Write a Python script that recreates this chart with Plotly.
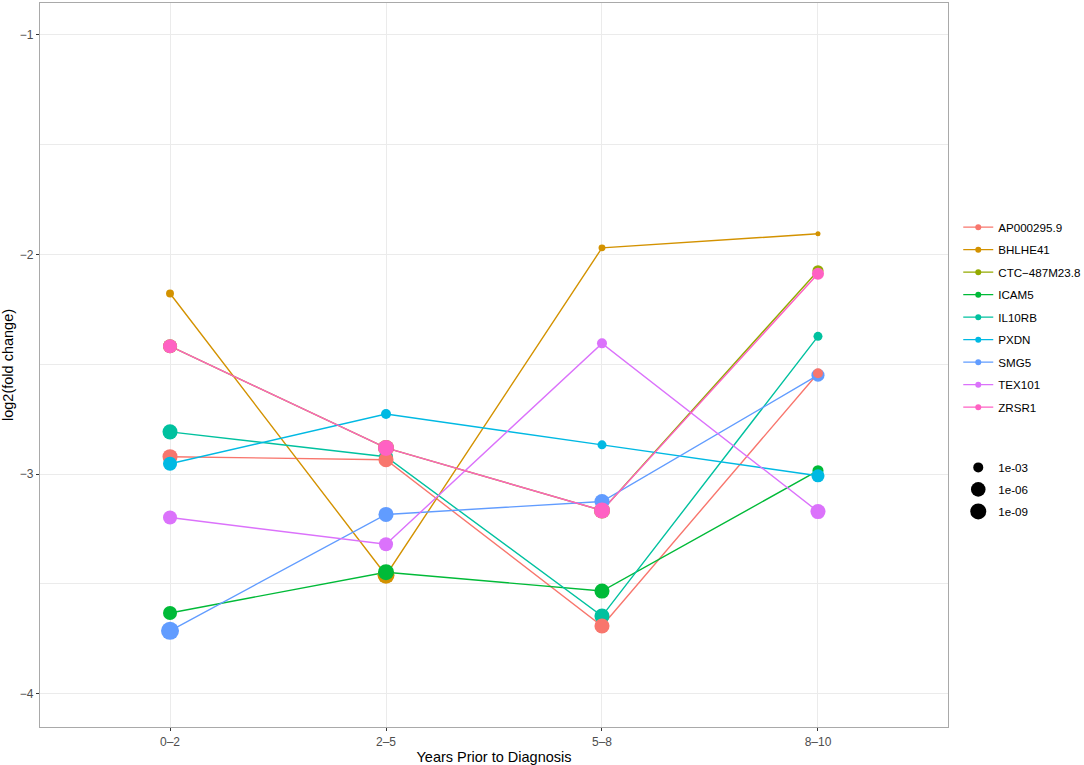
import math
import plotly.graph_objects as go

periods = ["0\u20132", "2\u20135", "5\u20138", "8\u201310"]
genes = ["AP000295.9", "BHLHE41", "CTC\u2212487M23.8", "ICAM5", "IL10RB",
         "PXDN", "SMG5", "TEX101", "ZRSR1"]
colors = ["#F8766D", "#D39200", "#93AA00", "#00BA38", "#00C19F",
          "#00B9E3", "#619CFF", "#DB72FB", "#FF61C3"]

# log2(fold change) per gene, per period
ap000295 = [-2.921, -2.935, -3.692, -2.541]
bhlhe41 = [-2.178, -3.461, -1.970, -1.906]
ctc487 = [-2.418, -2.881, -3.166, -2.074]
icam5 = [-3.633, -3.447, -3.533, -2.985]
il10rb = [-2.808, -2.921, -3.647, -2.373]
pxdn = [-2.953, -2.727, -2.867, -3.008]
smg5 = [-3.714, -3.184, -3.125, -2.550]
tex101 = [-3.198, -3.320, -2.405, -3.171]
zrsr1 = [-2.418, -2.881, -3.166, -2.088]

# -log10(p value) per gene, per period (mapped to point size)
nlp_ap000295 = [6.4, 6.4, 6.4, 3.0]
nlp_bhlhe41 = [2.0, 8.0, 1.6, 1.0]
nlp_ctc487 = [5.6, 7.2, 7.2, 3.6]
nlp_icam5 = [5.6, 7.2, 6.4, 3.6]
nlp_il10rb = [6.4, 5.6, 6.4, 2.5]
nlp_pxdn = [5.6, 3.0, 2.5, 4.9]
nlp_smg5 = [9.0, 6.4, 6.4, 4.9]
nlp_tex101 = [5.6, 5.6, 3.0, 6.4]
nlp_zrsr1 = [5.6, 7.2, 7.2, 4.2]

size_breaks = [3, 6, 9]
size_labels = ["1e-03", "1e-06", "1e-09"]

values = [ap000295, bhlhe41, ctc487, icam5, il10rb, pxdn, smg5, tex101, zrsr1]
nlps = [nlp_ap000295, nlp_bhlhe41, nlp_ctc487, nlp_icam5, nlp_il10rb,
        nlp_pxdn, nlp_smg5, nlp_tex101, nlp_zrsr1]


def diam(L):
    return math.sqrt(max(100 + 37.3 * (L - 3), 16))


fig = go.Figure()

# lines first (like geom_line)
for g, c, v in zip(genes, colors, values):
    fig.add_trace(go.Scatter(x=periods, y=v, mode="lines",
                             line=dict(color=c, width=1.4),
                             showlegend=False, hoverinfo="skip"))

# points (like geom_point)
point_order = [1, 2, 4, 6, 0, 3, 5, 7, 8]
for i in point_order:
    fig.add_trace(go.Scatter(x=periods, y=values[i], mode="markers",
                             marker=dict(color=colors[i], opacity=1,
                                         size=[diam(L) for L in nlps[i]],
                                         line=dict(width=0)),
                             name=genes[i], showlegend=False))

# gene legend
for g, c in zip(genes, colors):
    fig.add_trace(go.Scatter(x=[None], y=[None], mode="lines+markers",
                             line=dict(color=c, width=1.4),
                             marker=dict(color=c, size=6),
                             name=g, legend="legend", legendgroup=g))

# size legend
for b, lab in zip(size_breaks, size_labels):
    fig.add_trace(go.Scatter(x=[None], y=[None], mode="markers",
                             marker=dict(color="black", size=diam(b)),
                             name=lab, legend="legend2", legendgroup="s" + lab))

grid = "#EBEBEB"
fig.update_layout(
    width=1084, height=765,
    margin=dict(l=40, r=136, t=2, b=35),
    plot_bgcolor="white", paper_bgcolor="white",
    font=dict(family="Liberation Sans, Arial, sans-serif", color="#4D4D4D", size=12),
    xaxis=dict(type="category", categoryorder="array", categoryarray=periods,
               range=[-0.602, 3.602], showgrid=True, gridcolor=grid, gridwidth=1.1,
               zeroline=False, showline=True, linecolor="#A9A9A9", linewidth=1.2,
               mirror=True, ticks="outside", ticklen=3, tickcolor="#333333",
               tickfont=dict(size=12, color="#4D4D4D"),
               title=dict(text="Years Prior to Diagnosis",
                          font=dict(size=14.5, color="black"), standoff=4)),
    yaxis=dict(range=[-4.152, -0.855], tickvals=[-4, -3, -2, -1],
               showgrid=True, gridcolor=grid, gridwidth=1.1,
               minor=dict(tickvals=[-3.5, -2.5, -1.5], showgrid=True,
                          gridcolor=grid, gridwidth=0.6, ticks=""),
               zeroline=False, showline=True, linecolor="#A9A9A9", linewidth=1.2,
               mirror=True, ticks="outside", ticklen=3, tickcolor="#333333",
               tickfont=dict(size=12, color="#4D4D4D"),
               title=dict(text="log2(fold change)",
                          font=dict(size=14.5, color="black"), standoff=6)),
    legend=dict(xref="container", yref="container", x=0.884, y=0.722,
                xanchor="left", yanchor="top", font=dict(size=11.6, color="black"),
                itemsizing="trace", tracegroupgap=3.5, bgcolor="rgba(0,0,0,0)",
                itemwidth=30),
    legend2=dict(xref="container", yref="container", x=0.884, y=0.408,
                 xanchor="left", yanchor="top", font=dict(size=11.6, color="black"),
                 itemsizing="trace", tracegroupgap=3, bgcolor="rgba(0,0,0,0)",
                 itemwidth=30),
)

fig.write_html("out.html", config={"displayModeBar": False},
               post_script="document.body.style.margin='0';")
